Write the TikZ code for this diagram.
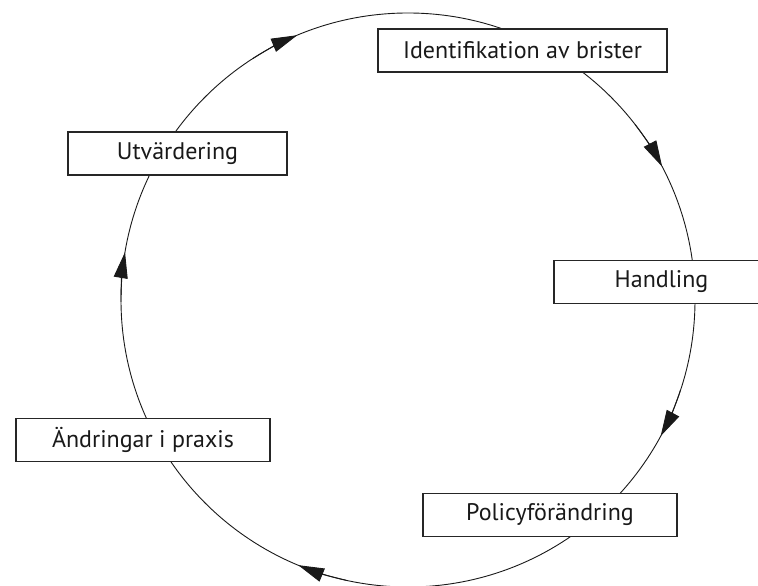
\documentclass[tikz,border=0pt]{standalone}
\usepackage{fontspec}
\setmainfont{PT Sans}
\usetikzlibrary{arrows.meta}

\tikzset{
    stage/.style={draw=black!85, line width=1.2pt, fill=white, minimum height=43pt,
        inner sep=0pt, text=black!90, font=\fontsize{24}{28}\selectfont},
    cycleline/.style={line width=0.9pt, black!90}
}

\begin{document}
\begin{tikzpicture}[x=1pt, y=1pt]
    \useasboundingbox (0, 0) rectangle (758, 586);

            %%draw the cycle
            \coordinate (c) at (408, 286);
            \draw[cycleline] (c) circle[radius=287pt];

            %%draw the arrow heads
            \foreach \a in {112.7, 27.7, -28.3, -112.5, 170.4}
                \draw[cycleline, -{Triangle[length=26pt, width=14pt]}]
                    ([shift={(\a+10:287pt)}]c) arc[start angle=\a+10, end angle=\a, radius=287pt];

            %%draw the stages
            \node[stage, minimum width=289pt] (ident) at (522.5, 535.5){Identifikation av brister};
            \node[stage, minimum width=215pt] (handling) at (661.5, 304){Handling};
            \node[stage, minimum width=254pt] (policy) at (550, 71){Policyförändring};
            \node[stage, minimum width=254pt] (praxis) at (143, 146){Ändringar i praxis};
            \node[stage, minimum width=219pt] (utv) at (177.5, 432.5){Utvärdering};
\end{tikzpicture}
\end{document}
